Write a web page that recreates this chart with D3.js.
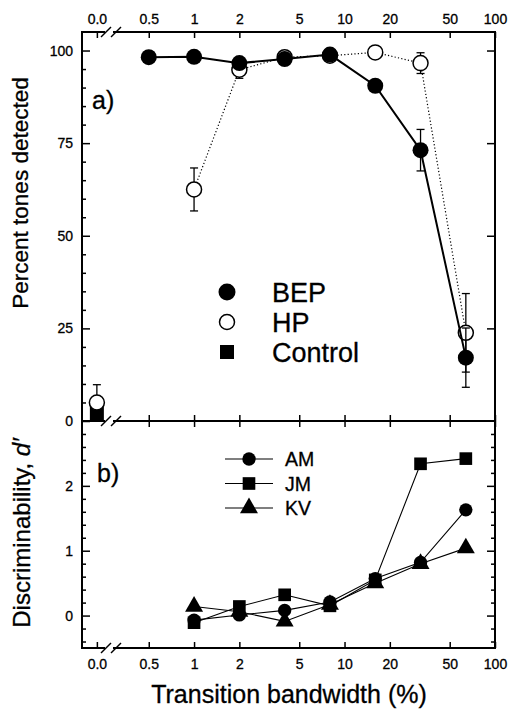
<!DOCTYPE html>
<html>
<head>
<meta charset="utf-8">
<script src="https://cdn.jsdelivr.net/npm/d3@7"></script>
<style>
  html, body { margin: 0; padding: 0; background: #fff; }
  svg text { font-family: "Liberation Sans", Arial, Helvetica, sans-serif; fill: #000; stroke: #000; stroke-width: 0.3px; }
</style>
</head>
<body>
<svg id="chart" width="510" height="715"></svg>
<script>
// ---------------- data ----------------
const xTickLabels = ["0.0", "0.5", "1", "2", "5", "10", "20", "50", "100"];
const xTickValues = [0, 0.5, 1, 2, 5, 10, 20, 50, 100];

// Panel a: percent tones detected
const bepBandwidth = [0.5, 1, 2, 4, 8, 16, 32, 64];
const bepPercent   = [98.2, 98.3, 96.6, 97.7, 98.9, 90.5, 73.1, 17.1];
const bepError     = [0, 0, 0, 0, 0, 0, 5.6, 8.0];

const hpBandwidth  = [1, 2, 4, 8, 16, 32, 64];
const hpPercent    = [62.5, 94.8, 98.2, 98.6, 99.5, 96.6, 23.8];
const hpError      = [5.8, 2.3, 0, 0, 0, 2.8, 10.6];

// values at 0.0 % bandwidth (left of axis break)
const hpZeroPercent      = [5.0];
const hpZeroError        = [4.8];
const controlZeroPercent = [2.1];

const yTicksA = [0, 25, 50, 75, 100];
const legendA = ["BEP", "HP", "Control"];

// Panel b: discriminability d'
const dBandwidth = [1, 2, 4, 8, 16, 32, 64];
const dAM = [-0.07, 0.01, 0.08, 0.21, 0.57, 0.82, 1.63];
const dJM = [-0.11, 0.14, 0.32, 0.15, 0.55, 2.34, 2.42];
const dKV = [0.14, 0.06, -0.09, 0.17, 0.50, 0.80, 1.04];
const yTicksB = [0, 1, 2];
const legendB = ["AM", "JM", "KV"];

// ---------------- layout ----------------
const L = 82, R = 495, TOP = 32, MID = 421, BOT = 648;
const ZERO_POS = 0.226; // where the "0.0" category sits on the log axis

const svg = d3.select("#chart");
const x = d3.scaleLog().domain([0.18, 100]).range([L, R]);
const xp = v => x(v === 0 ? ZERO_POS : v);
const yA = d3.scaleLinear().domain([0, 105]).range([MID, TOP]);
const yB = d3.scaleLinear().domain([-0.5, 3]).range([BOT, MID]);

const xTickPos = xTickValues.map(v => (v === 0 ? ZERO_POS : v));
const labelOf = v => xTickLabels[xTickPos.indexOf(v)];

function styleAxis(g) {
  g.select(".domain").remove();
  g.selectAll("line").attr("stroke", "#000").attr("stroke-width", 1.5);
  g.selectAll("text").style("font-size", "14px");
}

// ----- x axes -----
svg.append("g").attr("transform", `translate(0,${TOP})`)
  .call(d3.axisTop(x).tickValues(xTickPos).tickFormat(labelOf).tickSize(-6).tickPadding(8))
  .call(styleAxis);
svg.append("g").attr("transform", `translate(0,${MID})`)
  .call(d3.axisBottom(x).tickValues(xTickPos.slice(1)).tickFormat("").tickSize(-6))
  .call(styleAxis);
svg.append("g").attr("transform", `translate(0,${MID})`)
  .call(d3.axisTop(x).tickValues(xTickPos.slice(1)).tickFormat("").tickSize(-6))
  .call(styleAxis);
svg.append("g").attr("transform", `translate(0,${BOT})`)
  .call(d3.axisBottom(x).tickValues(xTickPos).tickFormat(labelOf).tickSize(-6).tickPadding(11))
  .call(styleAxis);

// ----- y axes panel a -----
const minorA = d3.range(0, 105, 5).filter(v => v % 25 !== 0);
svg.append("g").attr("transform", `translate(${L},0)`)
  .call(d3.axisLeft(yA).tickValues(yTicksA).tickFormat(d3.format("d")).tickSize(-8).tickPadding(9))
  .call(styleAxis);
svg.append("g").attr("transform", `translate(${L},0)`)
  .call(d3.axisLeft(yA).tickValues(minorA).tickFormat("").tickSize(-4))
  .call(styleAxis);
svg.append("g").attr("transform", `translate(${R},0)`)
  .call(d3.axisRight(yA).tickValues(yTicksA.filter(v => v > 0)).tickFormat("").tickSize(-8))
  .call(styleAxis);

// ----- y axes panel b -----
const minorB = d3.range(-0.4, 3.0, 0.2).map(v => +v.toFixed(1)).filter(v => Math.abs(v % 1) > 0.01);
svg.append("g").attr("transform", `translate(${L},0)`)
  .call(d3.axisLeft(yB).tickValues(yTicksB).tickFormat(d3.format("d")).tickSize(-8).tickPadding(9))
  .call(styleAxis);
svg.append("g").attr("transform", `translate(${L},0)`)
  .call(d3.axisLeft(yB).tickValues(minorB).tickFormat("").tickSize(-4))
  .call(styleAxis);
svg.append("g").attr("transform", `translate(${R},0)`)
  .call(d3.axisRight(yB).tickValues(yTicksB).tickFormat("").tickSize(-8))
  .call(styleAxis);
svg.append("g").attr("transform", `translate(${R},0)`)
  .call(d3.axisRight(yB).tickValues(minorB).tickFormat("").tickSize(-4))
  .call(styleAxis);

// ----- frames -----
[[TOP, MID], [MID, BOT]].forEach(([t, b]) => {
  svg.append("rect").attr("x", L).attr("y", t).attr("width", R - L).attr("height", b - t)
    .attr("fill", "none").attr("stroke", "#000").attr("stroke-width", 2);
});

// axis breaks
function brk(yy) {
  const x0 = 101, gap = 8;
  svg.append("rect").attr("x", x0 + 4).attr("y", yy - 2).attr("width", gap).attr("height", 4).attr("fill", "#fff");
  [x0, x0 + gap + 2].forEach(xx => {
    svg.append("line").attr("x1", xx).attr("y1", yy + 5).attr("x2", xx + 10).attr("y2", yy - 5)
      .attr("stroke", "#000").attr("stroke-width", 1.5);
  });
}
brk(TOP); brk(MID); brk(BOT);

// ----- panel a data -----
const gA = svg.append("g");
function errBars(g, xs, ys, es, yS) {
  xs.forEach((v, i) => {
    if (!es[i]) return;
    const cx = xp(v), y1 = yS(ys[i] + es[i]), y2 = yS(ys[i] - es[i]);
    g.append("line").attr("x1", cx).attr("x2", cx).attr("y1", y1).attr("y2", y2).attr("stroke", "#000").attr("stroke-width", 1.3);
    [y1, y2].forEach(yy => g.append("line").attr("x1", cx - 4).attr("x2", cx + 4).attr("y1", yy).attr("y2", yy).attr("stroke", "#000").attr("stroke-width", 1.3));
  });
}

// control at 0.0
gA.selectAll(".ctl").data(controlZeroPercent).join("rect")
  .attr("x", xp(0) - 7).attr("y", d => yA(d) - 7).attr("width", 14).attr("height", 14).attr("fill", "#000");
// HP at 0.0
errBars(gA, [0], hpZeroPercent, hpZeroError, yA);
gA.selectAll(".hp0").data(hpZeroPercent).join("circle")
  .attr("cx", xp(0)).attr("cy", d => yA(d)).attr("r", 7.5).attr("fill", "#fff").attr("stroke", "#000").attr("stroke-width", 1.5);

// HP series
const lineHP = d3.line().x((d, i) => xp(hpBandwidth[i])).y(d => yA(d));
gA.append("path").attr("d", lineHP(hpPercent)).attr("fill", "none").attr("stroke", "#000")
  .attr("stroke-width", 1.2).attr("stroke-dasharray", "1.2,2.2");
errBars(gA, hpBandwidth, hpPercent, hpError, yA);
gA.selectAll(".hp").data(hpPercent).join("circle")
  .attr("cx", (d, i) => xp(hpBandwidth[i])).attr("cy", d => yA(d)).attr("r", 7.5)
  .attr("fill", "#fff").attr("stroke", "#000").attr("stroke-width", 1.5);

// BEP series
const lineBEP = d3.line().x((d, i) => xp(bepBandwidth[i])).y(d => yA(d));
gA.append("path").attr("d", lineBEP(bepPercent)).attr("fill", "none").attr("stroke", "#000").attr("stroke-width", 2);
errBars(gA, bepBandwidth, bepPercent, bepError, yA);
gA.selectAll(".bep").data(bepPercent).join("circle")
  .attr("cx", (d, i) => xp(bepBandwidth[i])).attr("cy", d => yA(d)).attr("r", 8).attr("fill", "#000");

// legend a
const legA = svg.append("g");
legendA.forEach((name, i) => {
  const cy = 292 + i * 30, cx = 227;
  if (i === 0) legA.append("circle").attr("cx", cx).attr("cy", cy).attr("r", 8.5).attr("fill", "#000");
  if (i === 1) legA.append("circle").attr("cx", cx).attr("cy", cy).attr("r", 7.5).attr("fill", "#fff").attr("stroke", "#000").attr("stroke-width", 1.5);
  if (i === 2) legA.append("rect").attr("x", cx - 7).attr("y", cy - 7).attr("width", 14).attr("height", 14).attr("fill", "#000");
  legA.append("text").attr("x", 272).attr("y", cy + 10).style("font-size", "27px").text(name);
});

svg.append("text").attr("x", 92).attr("y", 109).style("font-size", "25px").text("a)");
svg.append("text").attr("x", 97).attr("y", 482).style("font-size", "25px").text("b)");

// ----- panel b data -----
const gB = svg.append("g");
const seriesB = [dAM, dJM, dKV];
const shapes = [d3.symbolCircle, d3.symbolSquare, d3.symbolTriangle];
const shapeSize = [140, 160, 140];
const lineB = d3.line().x((d, i) => xp(dBandwidth[i])).y(d => yB(d));
seriesB.forEach(s => gB.append("path").attr("d", lineB(s)).attr("fill", "none").attr("stroke", "#000").attr("stroke-width", 1.1));
seriesB.forEach((s, k) => {
  gB.selectAll(null).data(s).join("path")
    .attr("transform", (d, i) => `translate(${xp(dBandwidth[i])},${yB(d)})`)
    .attr("d", d3.symbol().type(shapes[k]).size(shapeSize[k])).attr("fill", "#000");
});

// legend b
const legB = svg.append("g");
legendB.forEach((name, k) => {
  const cy = 459 + k * 24.5;
  legB.append("line").attr("x1", 225).attr("x2", 273).attr("y1", cy).attr("y2", cy).attr("stroke", "#000").attr("stroke-width", 1.1);
  legB.append("path").attr("transform", `translate(249,${cy})`).attr("d", d3.symbol().type(shapes[k]).size(shapeSize[k])).attr("fill", "#000");
  legB.append("text").attr("x", 285).attr("y", cy + 7).style("font-size", "19.5px").text(name);
});

// ----- axis titles -----
svg.append("text").attr("transform", "translate(28,193) rotate(-90)").attr("text-anchor", "middle")
  .style("font-size", "22.5px").text("Percent tones detected");
svg.append("text").attr("transform", "translate(30,533) rotate(-90)").attr("text-anchor", "middle")
  .style("font-size", "24px")
  .call(t => { t.append("tspan").text("Discriminability, "); t.append("tspan").style("font-style", "italic").text("d′"); });
svg.append("text").attr("x", 289).attr("y", 703).attr("text-anchor", "middle")
  .style("font-size", "25px").text("Transition bandwidth (%)");
</script>
</body>
</html>
